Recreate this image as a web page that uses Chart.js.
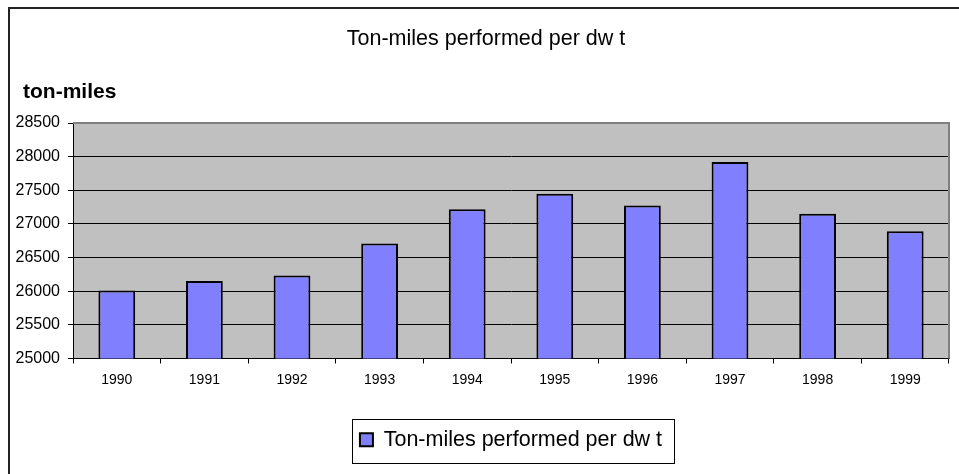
<!DOCTYPE html>
<html>
<head>
<meta charset="utf-8">
<script src="https://cdn.jsdelivr.net/npm/chart.js@4/dist/chart.umd.min.js"></script>
<style>
  html, body { margin: 0; padding: 0; background: #fff; overflow: hidden; }
  #frame { position: absolute; left: 8px; top: 7px; width: 970px; height: 490px;
           border-top: 2px solid #222; border-left: 2px solid #222; }
  #chart { position: absolute; left: 0; top: 0; }
</style>
</head>
<body>
<div id="frame"></div>
<canvas id="chart" width="959" height="474"></canvas>
<script>
const YEARS = ['1990', '1991', '1992', '1993', '1994', '1995', '1996', '1997', '1998', '1999'];
const TON_MILES = [26010, 26150, 26235, 26710, 27220, 27450, 27275, 27920, 27150, 26890];
const Y_MIN = 25000;
const Y_MAX = 28500;
const Y_STEP = 500;
const SERIES_NAME = 'Ton-miles performed per dw t';

const FONT = '"Liberation Sans", Arial, sans-serif';

// grey plot area with a grey frame on top/right, like the old excel charts
const plotBackground = {
  id: 'plotBackground',
  afterLayout(chart) {
    // let the y tick labels stick out to the left of the axis box (no clipping)
    chart.scales.y.left = 8;
  },
  beforeDraw(chart) {
    const { ctx, chartArea: a } = chart;
    ctx.save();
    ctx.fillStyle = '#c0c0c0';
    ctx.fillRect(a.left, a.top, a.right - a.left, a.bottom - a.top);
    ctx.restore();
  },
  beforeDatasetsDraw(chart) {
    const { ctx, chartArea: a } = chart;
    ctx.save();
    ctx.strokeStyle = '#808080';
    ctx.lineWidth = 2;
    ctx.beginPath();
    ctx.moveTo(a.left, a.top);
    ctx.lineTo(a.right, a.top);
    ctx.lineTo(a.right, a.bottom);
    ctx.stroke();
    ctx.restore();
  }
};

// box round the legend
const legendFrame = {
  id: 'legendFrame',
  afterDraw(chart) {
    const hb = chart.legend && chart.legend.legendHitBoxes[0];
    if (!hb) return;
    const ctx = chart.ctx;
    ctx.save();
    ctx.strokeStyle = '#000';
    ctx.lineWidth = 1;
    const x1 = Math.round(hb.left - 8) + 0.5;
    const x2 = Math.round(hb.left + hb.width + 12) + 0.5;
    const y1 = Math.round(hb.top - 10) + 0.5;
    const y2 = Math.round(hb.top + hb.height + 12) + 0.5;
    ctx.strokeRect(x1, y1, x2 - x1, y2 - y1);
    ctx.restore();
  }
};

new Chart(document.getElementById('chart').getContext('2d'), {
  type: 'bar',
  data: {
    labels: YEARS,
    datasets: [{
      label: SERIES_NAME,
      data: TON_MILES,
      backgroundColor: '#8080ff',
      borderColor: '#000',
      borderWidth: 2,
      borderSkipped: false,
      barPercentage: 0.42,
      categoryPercentage: 1
    }]
  },
  options: {
    responsive: false,
    animation: false,
    layout: { padding: { left: 23, right: 10, top: 0, bottom: 13.5 } },
    plugins: {
      title: {
        display: true,
        text: SERIES_NAME,
        color: '#000',
        font: { family: FONT, size: 21.5, weight: 'normal' },
        padding: { top: 26, bottom: 0 }
      },
      subtitle: {
        display: true,
        text: 'ton-miles',
        align: 'start',
        color: '#000',
        font: { family: FONT, size: 21, weight: 'bold' },
        padding: { top: 28, bottom: 18 }
      },
      legend: {
        position: 'bottom',
        fullSize: false,
        labels: {
          color: '#000',
          font: { family: FONT, size: 21.5 },
          boxWidth: 13,
          boxHeight: 13,
          padding: 10
        }
      },
      tooltip: { enabled: false }
    },
    scales: {
      x: {
        grid: { display: true, drawOnChartArea: false, drawTicks: true, tickLength: 5, color: '#000' },
        border: { color: '#000', width: 1 },
        ticks: { color: '#000', font: { family: FONT, size: 14 }, padding: 8, maxRotation: 0 },
        afterFit(scale) { scale.height = 60.5; }
      },
      y: {
        min: Y_MIN,
        max: Y_MAX,
        ticks: {
          stepSize: Y_STEP,
          color: '#000',
          font: { family: FONT, size: 16 },
          padding: 8,
          callback: v => String(v)
        },
        grid: { color: '#000', lineWidth: 1, tickLength: 5 },
        border: { color: '#000', width: 1 },
        afterFit(scale) { scale.width = 50; }
      }
    }
  },
  plugins: [plotBackground, legendFrame]
});
</script>
</body>
</html>
